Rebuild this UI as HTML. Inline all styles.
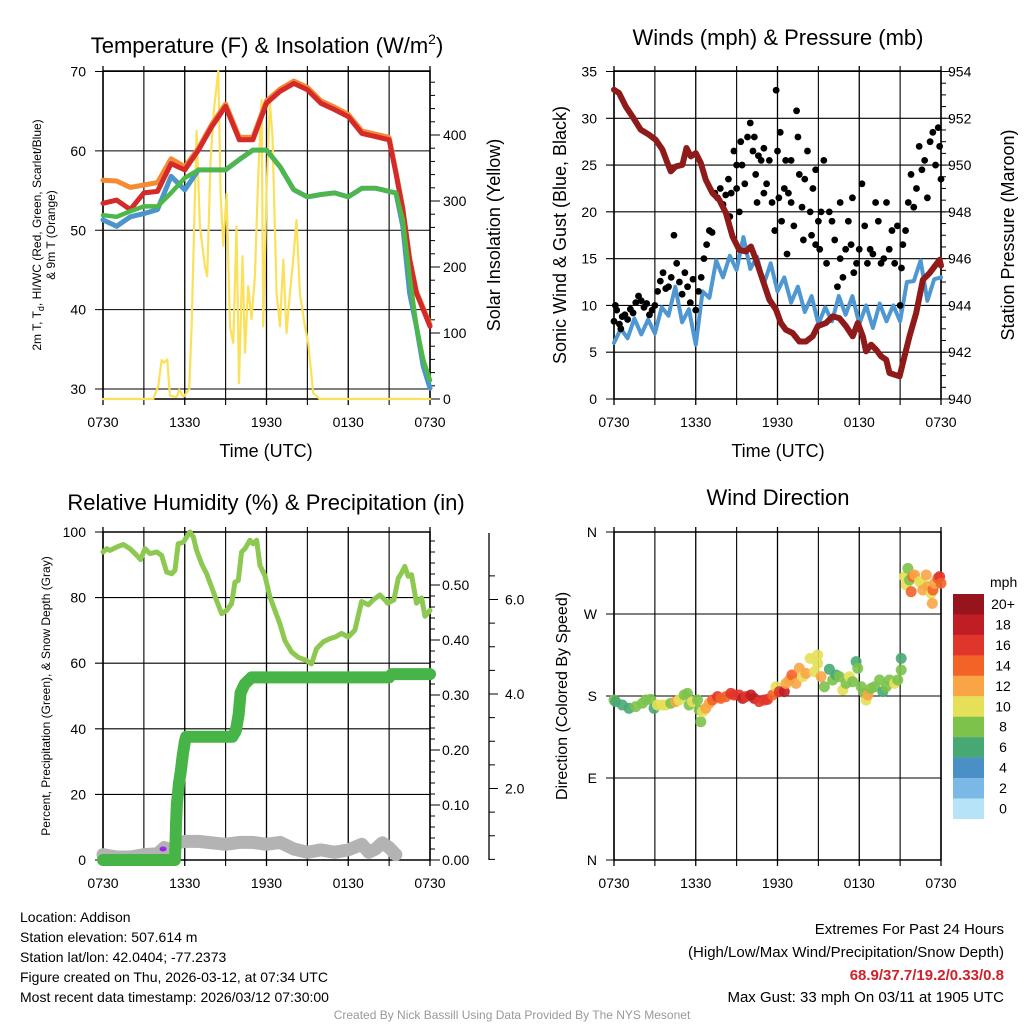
<!DOCTYPE html>
<html><head><meta charset="utf-8">
<style>
html,body{margin:0;padding:0;background:#fff}
svg{display:block;font-family:"Liberation Sans",Arial,sans-serif}
</style></head><body>
<svg id="c" width="1024" height="1024" viewBox="0 0 1024 1024" xmlns="http://www.w3.org/2000/svg">
<g font-size="22" text-anchor="middle">
<text x="267" y="53">Temperature (F) &amp; Insolation (W/m<tspan dy="-9" font-size="14">2</tspan><tspan dy="9">)</tspan></text>
<text x="778" y="45">Winds (mph) &amp; Pressure (mb)</text>
<text x="266" y="510">Relative Humidity (%) &amp; Precipitation (in)</text>
<text x="778" y="505">Wind Direction</text>
</g>
<g font-size="18" text-anchor="middle">
<text x="266" y="457">Time (UTC)</text>
<text x="778" y="457">Time (UTC)</text>
<text transform="translate(500,235) rotate(-90)">Solar Insolation (Yellow)</text>
<text transform="translate(566,235) rotate(-90)">Sonic Wind &amp; Gust (Blue, Black)</text>
<text transform="translate(1014,235) rotate(-90)">Station Pressure (Maroon)</text>
<text transform="translate(567,696) rotate(-90)" font-size="16">Direction (Colored By Speed)</text>
</g>
<g font-size="12" text-anchor="middle">
<text transform="translate(41,235) rotate(-90)">2m T, T<tspan dy="3" font-size="9">d</tspan><tspan dy="-3">, HI/WC (Red, Green, Scarlet/Blue)</tspan></text>
<text transform="translate(55,235) rotate(-90)">&amp; 9m T (Orange)</text>
<text transform="translate(50,696) rotate(-90)">Percent, Precipitation (Green), &amp; Snow Depth (Gray)</text>
</g>
<g font-size="14">
<text x="20" y="922">Location: Addison</text>
<text x="20" y="942">Station elevation: 507.614 m</text>
<text x="20" y="962">Station lat/lon: 42.0404; -77.2373</text>
<text x="20" y="982">Figure created on Thu, 2026-03-12, at 07:34 UTC</text>
<text x="20" y="1002">Most recent data timestamp: 2026/03/12 07:30:00</text>
</g>
<g font-size="15" text-anchor="end">
<text x="1004" y="934">Extremes For Past 24 Hours</text>
<text x="1004" y="957">(High/Low/Max Wind/Precipitation/Snow Depth)</text>
<text x="1004" y="980" fill="#d0202a" font-weight="bold">68.9/37.7/19.2/0.33/0.8</text>
<text x="1004" y="1002">Max Gust: 33 mph On 03/11 at 1905 UTC</text>
</g>
<text x="512" y="1019" font-size="12" fill="#999" text-anchor="middle">Created By Nick Bassill Using Data Provided By The NYS Mesonet</text>
</svg>
<script>
// ---------- DATA ----------
const xTickLabels = ["0730","1330","1930","0130","0730"];
// Panel 1
const tempHours = [0,1,2,3,4,5,6,7,8,9,10,11,12,13,14,15,16,17,18,19,20,21,21.5,22,22.5,23,23.5,24];
const temp2m = [53.4,53.8,52.6,54.7,54.9,58.4,57.6,60.1,63.1,65.6,61.4,61.4,66,67.5,68.5,67.7,66,65.2,64.3,62.2,61.8,61.4,57.2,52.6,46.3,42.1,40,37.9];
const temp9m = [56.3,56.2,55.4,55.7,56,59,58,60.3,63.4,65.9,61.7,61.7,66.3,67.8,68.8,68,66.3,65.5,64.6,62.5,62.1,61.7,57.4,52.8,46.5,42.3,40.2,38.1];
const dewpt = [51.9,51.7,52.4,53,53,54.7,56.6,57.6,57.6,57.6,58.9,60.1,60.1,58,55.1,54.2,54.5,54.7,54.2,55.3,55.3,54.9,54.7,51.3,44.2,37.9,33.7,31.1];
const heatIdx = [51.3,50.5,51.7,52.1,52.6,56.8,55.1,57.6,57.6,57.6,58.9,60.1,60.1,58,55.1,54.2,54.5,54.7,54.2,55.3,55.3,54.9,54.7,50.5,42.1,37.9,32.9,30.1];
const solarHours = [0,3.69,4.06,4.3,4.47,4.72,4.91,5.4,5.6,5.9,6.33,6.5,6.87,7.11,7.48,7.65,7.9,8.14,8.46,8.63,8.83,9.07,9.32,9.56,9.8,9.98,10.24,10.42,10.66,10.9,11.15,11.39,11.64,11.76,12,12.25,12.44,12.74,12.98,13.23,13.47,13.72,13.96,14.2,14.45,14.82,15.06,15.43,15.9,24];
const solarVals = [0,0,20,59,55,60,5,3,14,3,15,109,406,262,201,186,362,438,497,311,232,311,109,85,261,24,216,70,171,121,186,337,453,110,312,449,398,160,110,211,100,160,211,271,160,110,85,9,0,0];
// Panel 2
const windHours = Array.from({length:49},(_, i)=>i*0.5);
const windVals = [6.0,7.5,6.5,8.6,6.9,8.5,7.0,9.8,8.9,12.0,8.2,9.6,5.8,11.5,10.8,14.8,13.0,15.3,13.8,17.3,13.9,15.2,12.3,14.5,11.5,13.0,10.3,12.0,9.3,11.0,8.0,9.8,8.3,11.0,9.0,11.0,8.0,10.0,7.6,10.2,8.3,10.0,8.3,12.5,12.6,14.8,10.5,12.8,13.0];
const gustHours = [0,0.1,0.2,0.4,0.5,0.6,0.8,1,1.2,1.4,1.6,1.8,2,2.2,2.4,2.6,2.8,3,3.2,3.4,3.6,3.8,4,4.2,4.4,4.6,4.8,5,5.2,5.4,5.6,5.8,6,6.2,6.4,6.6,6.8,7,7.2,7.4,7.6,7.8,8,8.2,8.4,8.6,8.8,9,9.2,9.3,9.4,9.6,9.8,10,10.2,10.3,10.4,10.6,10.8,11,11.2,11.4,11.6,11.8,11.9,12,12.1,12.2,12.3,12.5,12.6,12.8,13,13.2,13.4,13.5,13.6,13.8,14,14.2,14.4,14.5,14.6,14.8,15,15.1,15.2,15.4,15.6,15.8,16,16.2,16.4,16.6,16.8,17,17.2,17.4,17.6,17.8,18,18.2,18.4,18.6,18.8,19,19.2,19.4,19.6,19.8,20,20.2,20.4,20.6,20.8,21,21.1,21.2,21.4,21.6,21.8,22,22.2,22.4,22.6,22.8,23,23.2,23.4,23.6,23.8,23.9,24,8.5,9,10.5,11,12.7,13,13.9,14.8,16.6,17.5];
const gustVals = [8.3,10,9.5,8,7.5,8.8,9,8.5,9.6,9.2,10.3,11,10.5,9.8,10.2,9,9.5,10,11.5,12.6,13.5,11.8,12,13,17.5,14.5,12.5,11.2,13.5,12,10.3,12.8,9.5,11.5,13,15,16.5,18,17.8,22,21.5,22.5,20.8,21.8,23.5,22,26.5,25,20,27.5,25,23,28,29.5,26.5,28,24,26,25.5,22,23,25.5,21,18,33,26.5,21.5,28.5,19,22.5,25.5,22,21,18.5,30.8,28,24,20.5,23.5,26.5,20,17.5,22.5,24.5,19,16,20,25.5,14.5,20,19,17,12,15,13,16,19,16.5,13.5,14.5,16,23,18.5,14.5,16,15.5,21,19,14.5,15,21,16,18,14.5,18.5,10,14,16.5,18,21,24,20.5,22.5,27,24.5,25.5,21.5,27.5,28.5,25,29,27,23.5,19.5,22.5,21,26.8,15.5,25.5,17,16.5,21,21.5];
const presHours = [0,0.37,0.86,1.35,1.96,2.57,3.06,3.55,3.92,4.17,4.53,5.02,5.32,5.64,6,6.37,6.74,7.23,7.72,8.21,8.7,9.19,9.68,10.05,10.42,10.91,11.4,11.89,12.25,12.62,13.11,13.6,14.09,14.58,14.95,15.56,16.05,16.54,17.03,17.52,17.89,18.26,18.5,18.87,19.24,19.61,19.98,20.22,20.59,20.96,21.32,21.69,22.18,22.67,23.16,23.53,23.9,24];
const presVals = [953.22,953.08,952.51,952.08,951.51,951.3,951.08,950.66,950.09,949.73,949.94,950.01,950.73,950.37,950.51,950.09,949.37,948.8,948.52,947.95,946.95,946.38,946.31,946.52,945.95,945.1,944.25,943.82,943.25,942.96,942.82,942.46,942.46,942.68,943.11,943.25,943.53,943.46,943.11,942.68,943.25,942.68,942.04,942.32,942.11,941.82,941.68,941.11,941.04,940.97,941.82,942.68,943.68,945.1,945.38,945.67,945.95,945.7];
// Panel 3
const rhHours = [0,0.27,0.51,1,1.49,1.98,2.47,2.76,3.08,3.45,3.94,4.3,4.67,5.04,5.28,5.52,5.89,6.38,6.63,6.87,7.24,7.6,7.97,8.34,8.71,9.07,9.44,9.68,9.93,10.17,10.42,10.78,11.02,11.27,11.52,11.88,12.25,12.62,12.98,13.35,13.84,14.33,14.94,15.3,15.67,16.16,16.65,17.04,17.51,18,18.49,18.98,19.47,19.83,20.32,20.69,20.89,21.35,21.67,21.91,22.15,22.4,22.64,23.01,23.38,23.63,24];
const rhVals = [93.9,94.9,94.4,95.4,96.2,94.9,92.9,91.6,94.9,93.4,93.9,92.9,87.8,87.3,88.3,96.4,96.9,100,98.5,94.4,90.3,87.3,83.2,79.1,75.1,76.1,78.1,84.7,85.2,93.9,94.9,97.5,96.4,97.5,89.8,86.7,80.2,76.1,72,66.9,63.4,61.8,60.8,59.8,64.4,66.5,67.5,68,69.1,68,70.1,78.8,77.8,79.3,80.8,79.3,78.3,79.3,85.9,87.5,89.5,86.5,87,78.3,79.9,74.3,76.1];
const precipHours = [0,5.28,5.31,5.36,5.42,5.5,5.58,5.7,5.85,6.0,6.1,9.5,9.75,9.95,10.1,10.4,10.9,21,21.2,24];
const precipVals = [0,0,0.015,0.065,0.1,0.12,0.14,0.16,0.19,0.215,0.224,0.224,0.235,0.264,0.304,0.32,0.332,0.332,0.338,0.338];
const snowHours = [0,1,2,3,4,4.5,5,5.5,6,7,8,9,10,11,12,13,14,15,16,17,18,19,19.5,20,20.5,21,21.5];
const snowVals = [0.6,0.55,0.55,0.6,0.62,0.75,0.7,0.85,0.88,0.88,0.85,0.82,0.86,0.86,0.82,0.86,0.72,0.65,0.7,0.65,0.7,0.82,0.65,0.72,0.85,0.75,0.6];
// Panel 4
const dirHours = [0,0.12,0.61,1.1,1.59,2.08,2.33,2.7,2.94,3.19,3.55,3.8,4.17,4.53,4.78,5.15,5.39,5.51,5.76,6.13,6.25,6.37,6.5,6.74,6.99,7.23,7.6,7.84,8.21,8.58,8.82,9.19,9.44,9.68,10.05,10.29,10.66,11.03,11.27,11.64,11.89,12.13,12.5,12.62,12.87,13.06,13.36,13.6,13.85,14.09,14.39,14.71,14.95,14.95,15.2,15.44,15.81,16.05,16.3,16.54,16.79,17.03,17.28,17.52,17.77,17.89,18.14,18.38,18.5,18.63,18.87,19.12,19.49,19.73,19.98,20.22,20.59,20.83,21.08,21.08,21.32,21.45,21.57,21.69,21.94,22.06,21.81,22.43,22.55,22.67,22.92,23.04,23.28,23.36,23.41,23.53,23.77,23.9,24];
const dirDegs = [175.6,173.8,170.1,166.5,168.3,172,175.6,176.3,166.5,170.1,170.1,170.1,172,173.8,175.6,181.1,182.9,170.1,173.8,175.6,164.6,151.8,162.8,166.5,172,175.6,179.3,177.4,179.3,182.9,181.1,181.1,177.4,179.3,181.1,177.4,173.8,175.6,176.3,181.1,190.2,184.8,184.8,193.9,197.6,203.1,193.9,210.4,201.2,204.9,221.3,206.7,225,215.9,201.2,190.2,209.3,197.6,203.1,201.2,186.6,193.9,201.2,195.7,217.7,210.4,190.2,182.9,175.6,181.1,188.4,190.2,197.6,184.8,190.2,197.6,193.9,197.6,221.3,208.5,311,301.8,320.1,307.3,311,312.8,294.5,305.5,303.7,296.4,312.8,300,292.7,281.7,296.4,303.7,309.2,311,303.7];
const dirSpeeds = [9,7,7,7,9,9,9,9,7,11,11,11,9,13,11,9,9,9,11,9,9,9,11,13,13,15,17,15,15,17,17,17,19,17,19,19,17,17,17,15,11,17,19,13,13,15,13,13,11,13,11,11,11,11,13,9,7,9,7,9,11,9,11,9,7,9,9,9,11,13,9,9,9,7,9,9,11,9,7,9,11,11,9,9,15,13,15,11,11,13,13,13,11,13,15,13,15,17,15];
const cbLabels = ["20+","18","16","14","12","10","8","6","4","2","0"];
const cbColors = ["#96151c","#c01d24","#e0352a","#f26328","#f9a545","#e5e057","#7cc24b","#48a874","#4a90c6","#7ab9e5","#b7e3f8"];

// ---------- DRAW ----------
const NS="http://www.w3.org/2000/svg";
const svg=document.getElementById('c');
function mk(tag,attrs,parent){const e=document.createElementNS(NS,tag);for(const k in attrs)e.setAttribute(k,attrs[k]);(parent||svg).appendChild(e);return e;}
function txt(x,y,s,anchor,size,parent){const t=mk('text',{x:x,y:y,'text-anchor':anchor,'font-size':size},parent);t.textContent=s;return t;}
function scale(d0,d1,r0,r1){return v=>r0+(v-d0)*(r1-r0)/(d1-d0);}
function pathFrom(xs,ys,fx,fy){return xs.map((h,i)=>(i?'L':'M')+fx(h).toFixed(1)+','+fy(ys[i]).toFixed(1)).join('');}

const P1={x0:103,x1:430,y0:71,y1:399}, P2={x0:614,x1:941,y0:71,y1:399}, P3={x0:103,x1:430,y0:532,y1:860}, P4={x0:614,x1:941,y0:532,y1:860};

function frame(P,name,hVals,fy){
  const g=mk('g',{});
  
  
  const fx=scale(0,24,P.x0,P.x1);
  for(let h=0;h<=24;h+=3){mk('line',{x1:fx(h),x2:fx(h),y1:P.y0-5,y2:P.y1+6,stroke:'#000','stroke-width':(h%6===0)?1.3:1.1},g);}
  hVals.forEach(v=>mk('line',{x1:P.x0-8,x2:P.x1,y1:fy(v),y2:fy(v),stroke:'#000','stroke-width':1.1},g));
  mk('rect',{x:P.x0,y:P.y0,width:P.x1-P.x0,height:P.y1-P.y0,fill:'none',stroke:'#000','stroke-width':1.5},g);
  xTickLabels.forEach((s,i)=>{const t=txt(fx(i*6),P.y1+28,s,'middle',14,g);
    
    });
  return fx;
}
function rightTicks(P,fy,vals,minor,fmt,lx,name){
  const g=mk('g',{});
  
  
  minor.forEach(v=>mk('line',{x1:P.x1,x2:P.x1+5,y1:fy(v),y2:fy(v),stroke:'#000','stroke-width':1},g));
  vals.forEach(v=>{mk('line',{x1:P.x1,x2:P.x1+10,y1:fy(v),y2:fy(v),stroke:'#000','stroke-width':1},g);
    txt(lx,fy(v)+5,fmt(v),'start',14,g);});
}
function leftLabels(P,fy,vals,fmt,lx,name){
  const g=mk('g',{});
  
  
  vals.forEach(v=>txt(lx,fy(v)+5,fmt(v),'end',14,g));
}
function range(a,b,s){const r=[];for(let v=a;v<=b+1e-9;v+=s)r.push(+v.toFixed(4));return r;}
function line(xs,ys,fx,fy,color,w,name){
  const p=mk('path',{d:pathFrom(xs,ys,fx,fy),fill:'none',stroke:color,'stroke-width':w,'stroke-linejoin':'round','stroke-linecap':'round'});
  
  
  return p;
}

// Panel 1
{
 const fyT=scale(70,30,71.5,389), fyS=scale(0,400,399,135);
 const fx=frame(P1,'p1',[30,40,50,60,70],fyT);
 leftLabels(P1,fyT,[30,40,50,60,70],v=>v,86,'p1-left-ticks');
 rightTicks(P1,fyS,[0,100,200,300,400],range(0,480,20),v=>v,443,'p1-right-ticks');
 line(solarHours,solarVals,fx,fyS,'#fbe05a',2.2,'solar-insolation-line');
 line(tempHours,temp9m,fx,fyT,'#f58a32',5,'temp-9m-line');
 line(tempHours,temp2m,fx,fyT,'#d42a2a',5,'temp-2m-line');
 line(tempHours,heatIdx,fx,fyT,'#4b95cc',5,'heat-index-line');
 line(tempHours,dewpt,fx,fyT,'#4db848',4.5,'dewpoint-line');
}
// Panel 2
{
 const fyW=scale(0,35,399,71.5), fyP=scale(940,954,399,71.5);
 const fx=frame(P2,'p2',range(0,35,5),fyW);
 leftLabels(P2,fyW,range(0,35,5),v=>v,597,'p2-left-ticks');
 rightTicks(P2,fyP,range(940,954,2),range(940,954,0.5),v=>v,948,'p2-right-ticks');
 line(windHours,windVals,fx,fyW,'#4e97d2',4,'sonic-wind-line');
 const g=mk('g',{});
 
 
 gustHours.forEach((h,i)=>{const c=mk('circle',{cx:fx(h),cy:fyW(gustVals[i]),r:3.4,fill:'#000'},g);
   
   });
 line(presHours,presVals,fx,fyP,'#8f1a1a',6,'pressure-line');
}
// Panel 3
{
 const fyR=scale(0,100,860,532), fyIn=scale(0,0.5,860,585), fySn=scale(0,2,883,788.5);
 const fx=frame(P3,'p3',range(0,100,20),fyR);
 leftLabels(P3,fyR,range(0,100,20),v=>v,86,'p3-left-ticks');
 rightTicks(P3,fyIn,range(0,0.5,0.1),range(0,0.58,0.02),v=>v.toFixed(2),442,'p3-precip-ticks');
 const g=mk('g',{});
 
 
 mk('line',{x1:489,x2:489,y1:533,y2:860,stroke:'#000','stroke-width':1.3},g);
 range(0.5,6.5,0.5).forEach(v=>mk('line',{x1:489,x2:495,y1:fySn(v),y2:fySn(v),stroke:'#000','stroke-width':1},g));
 [2,4,6].forEach(v=>{mk('line',{x1:489,x2:498,y1:fySn(v),y2:fySn(v),stroke:'#000'},g);txt(505,fySn(v)+5,v.toFixed(1),'start',14,g);});
 line(snowHours,snowVals,fx,fySn,'#b3b3b3',13,'snow-depth-line');
 line(rhHours,rhVals,fx,fyR,'#8dc850',5,'relative-humidity-line');
 line(precipHours,precipVals,fx,fyIn,'#46b446',12,'precipitation-line');
 const pd=mk('ellipse',{cx:163,cy:849,rx:3.5,ry:2.5,fill:'#a020f0'});
 
 
}
// Panel 4
{
 const fyD=scale(0,360,860,532);
 const fx=frame(P4,'p4',[0,90,180,270,360],fyD);
 const lg=mk('g',{});
 
 
 ['N','E','S','W','N'].forEach((s,i)=>txt(597,fyD(i*90)+5,s,'end',14,lg));
 const cidx=s=>Math.max(0,Math.min(10,10-Math.floor(s/2)));
 const g=mk('g',{});
 
 
 dirHours.forEach((h,i)=>{const c=mk('circle',{cx:fx(h),cy:fyD(dirDegs[i]),r:5.5,fill:cbColors[cidx(dirSpeeds[i])],'fill-opacity':0.9},g);
   
   });
 const cb=mk('g',{});
 
 
 txt(990,587,'mph','start',14,cb);
 cbColors.forEach((col,i)=>{mk('rect',{x:953,y:594+i*20.45,width:31,height:20.6,fill:col},cb);
   txt(1003,594+i*20.45+15,cbLabels[i],'middle',14,cb);});
}
</script>
</body></html>
